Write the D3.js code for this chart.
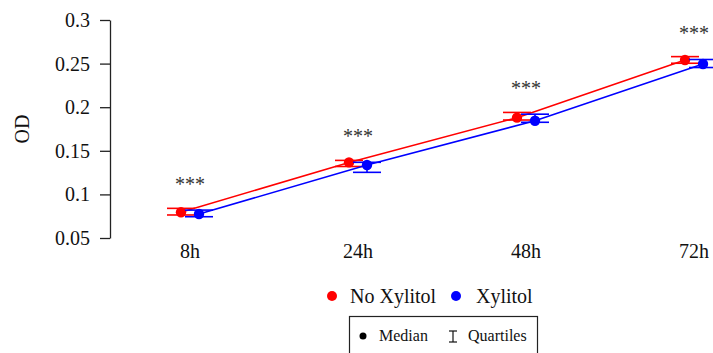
<!DOCTYPE html>
<html>
<head>
<meta charset="utf-8">
<script src="https://cdn.jsdelivr.net/npm/d3@7"></script>
<style>
  body { margin: 0; background: #fff; }
  svg text { font-family: "Liberation Serif", "Times New Roman", Times, serif !important; }
</style>
</head>
<body>
<div id="chart"></div>
<script>
// Time points
var categories = ["8h", "24h", "48h", "72h"];

// No Xylitol: median and quartiles
var noXylMedian = [0.0795, 0.1367, 0.188, 0.2541];
var noXylQ1 = [0.0764, 0.132, 0.1853, 0.2504];
var noXylQ3 = [0.084, 0.139, 0.194, 0.258];

// Xylitol: median and quartiles
var xylMedian = [0.0775, 0.1337, 0.1845, 0.2496];
var xylQ1 = [0.0744, 0.1253, 0.1827, 0.2455];
var xylQ3 = [0.082, 0.1368, 0.192, 0.2547];

// Significance marks per time point
var sigLabels = ["***", "***", "***", "***"];

var yTicks = [0.05, 0.1, 0.15, 0.2, 0.25, 0.3];

var width = 713;
var height = 353;
var serif = "'Liberation Serif', 'Times New Roman', serif";

var svg = d3.select("#chart")
  .append("svg")
  .attr("width", width)
  .attr("height", height)
  .attr("font-family", serif);

var xScale = d3.scalePoint()
  .domain(categories)
  .range([190, 694]);

var yScale = d3.scaleLinear()
  .domain([0.05, 0.3])
  .range([238, 20]);

// Left axis, R style
var yAxis = d3.axisLeft(yScale)
  .tickValues(yTicks)
  .tickFormat(function(d) { return String(+d.toFixed(2)); })
  .tickSizeOuter(0)
  .tickSizeInner(10)
  .tickPadding(10);

var yG = svg.append("g")
  .attr("transform", "translate(110,0)")
  .call(yAxis)
  .attr("font-family", serif);
yG.selectAll("path, line").attr("stroke", "#222").attr("stroke-width", 1.3);
yG.selectAll("text")
  .attr("font-size", 20)
  .attr("fill", "#111");

// Category labels, no axis line
svg.append("g")
  .selectAll("text")
  .data(categories)
  .enter()
  .append("text")
  .attr("x", function(d) { return xScale(d); })
  .attr("y", 258)
  .attr("text-anchor", "middle")
  .attr("font-size", 20)
  .attr("fill", "#111")
  .text(function(d) { return d; });

// Y label
svg.append("text")
  .attr("transform", "translate(29,129)rotate(-90)")
  .attr("text-anchor", "middle")
  .attr("font-size", 20)
  .attr("fill", "#111")
  .text("OD");

var series = [
  { name: "No Xylitol", color: "#ff0000", offset: -9, med: noXylMedian, q1: noXylQ1, q3: noXylQ3 },
  { name: "Xylitol", color: "#0000ff", offset: 9, med: xylMedian, q1: xylQ1, q3: xylQ3 }
];

var capHalf = 14;

series.forEach(function(s) {
  var pts = categories.map(function(c, i) {
    return { x: xScale(c) + s.offset, med: s.med[i], q1: s.q1[i], q3: s.q3[i] };
  });

  var line = d3.line()
    .x(function(d) { return d.x; })
    .y(function(d) { return yScale(d.med); });

  svg.append("path")
    .datum(pts)
    .attr("d", line)
    .attr("fill", "none")
    .attr("stroke", s.color)
    .attr("stroke-width", 1.6);

  var g = svg.append("g");
  // quartile bars
  g.selectAll(".vbar")
    .data(pts)
    .enter()
    .append("line")
    .attr("x1", function(d) { return d.x; })
    .attr("x2", function(d) { return d.x; })
    .attr("y1", function(d) { return yScale(d.q1); })
    .attr("y2", function(d) { return yScale(d.q3); })
    .attr("stroke", s.color)
    .attr("stroke-width", 1.6);
  g.selectAll(".capTop")
    .data(pts)
    .enter()
    .append("line")
    .attr("x1", function(d) { return d.x - capHalf; })
    .attr("x2", function(d) { return d.x + capHalf; })
    .attr("y1", function(d) { return yScale(d.q3); })
    .attr("y2", function(d) { return yScale(d.q3); })
    .attr("stroke", s.color)
    .attr("stroke-width", 1.6);
  g.selectAll(".capBot")
    .data(pts)
    .enter()
    .append("line")
    .attr("x1", function(d) { return d.x - capHalf; })
    .attr("x2", function(d) { return d.x + capHalf; })
    .attr("y1", function(d) { return yScale(d.q1); })
    .attr("y2", function(d) { return yScale(d.q1); })
    .attr("stroke", s.color)
    .attr("stroke-width", 1.6);
  g.selectAll("circle")
    .data(pts)
    .enter()
    .append("circle")
    .attr("cx", function(d) { return d.x; })
    .attr("cy", function(d) { return yScale(d.med); })
    .attr("r", 5.2)
    .attr("fill", s.color);
});

// Significance stars above each time point
svg.append("g")
  .selectAll("text")
  .data(categories)
  .enter()
  .append("text")
  .attr("x", function(d) { return xScale(d); })
  .attr("y", function(d, i) {
    return yScale(Math.max(noXylQ3[i], xylQ3[i])) - 27 + 10;
  })
  .attr("text-anchor", "middle")
  .attr("font-size", 20)
  .attr("fill", "#333")
  .text(function(d, i) { return sigLabels[i]; });

// Series legend
var legend = svg.append("g");
legend.append("circle").attr("cx", 332).attr("cy", 296).attr("r", 5).attr("fill", "#ff0000");
legend.append("text").attr("x", 350).attr("y", 303).attr("font-size", 20).attr("fill", "#111").text("No Xylitol");
legend.append("circle").attr("cx", 456).attr("cy", 296).attr("r", 5).attr("fill", "#0000ff");
legend.append("text").attr("x", 476).attr("y", 303).attr("font-size", 20).attr("fill", "#111").text("Xylitol");

// Symbol legend box
var box = svg.append("g");
box.append("rect")
  .attr("x", 349.5).attr("y", 316.5)
  .attr("width", 188).attr("height", 50)
  .attr("fill", "none")
  .attr("stroke", "#222")
  .attr("stroke-width", 1.2);
box.append("circle").attr("cx", 363).attr("cy", 336).attr("r", 3.5).attr("fill", "#000");
box.append("text").attr("x", 379).attr("y", 341).attr("font-size", 16).attr("fill", "#111").text("Median");
box.append("line").attr("x1", 453).attr("x2", 453).attr("y1", 331).attr("y2", 342).attr("stroke", "#111").attr("stroke-width", 1.2);
box.append("line").attr("x1", 449).attr("x2", 457).attr("y1", 331).attr("y2", 331).attr("stroke", "#111").attr("stroke-width", 1.2);
box.append("line").attr("x1", 449).attr("x2", 457).attr("y1", 342).attr("y2", 342).attr("stroke", "#111").attr("stroke-width", 1.2);
box.append("text").attr("x", 468).attr("y", 341).attr("font-size", 16).attr("fill", "#111").text("Quartiles");
</script>
</body>
</html>
